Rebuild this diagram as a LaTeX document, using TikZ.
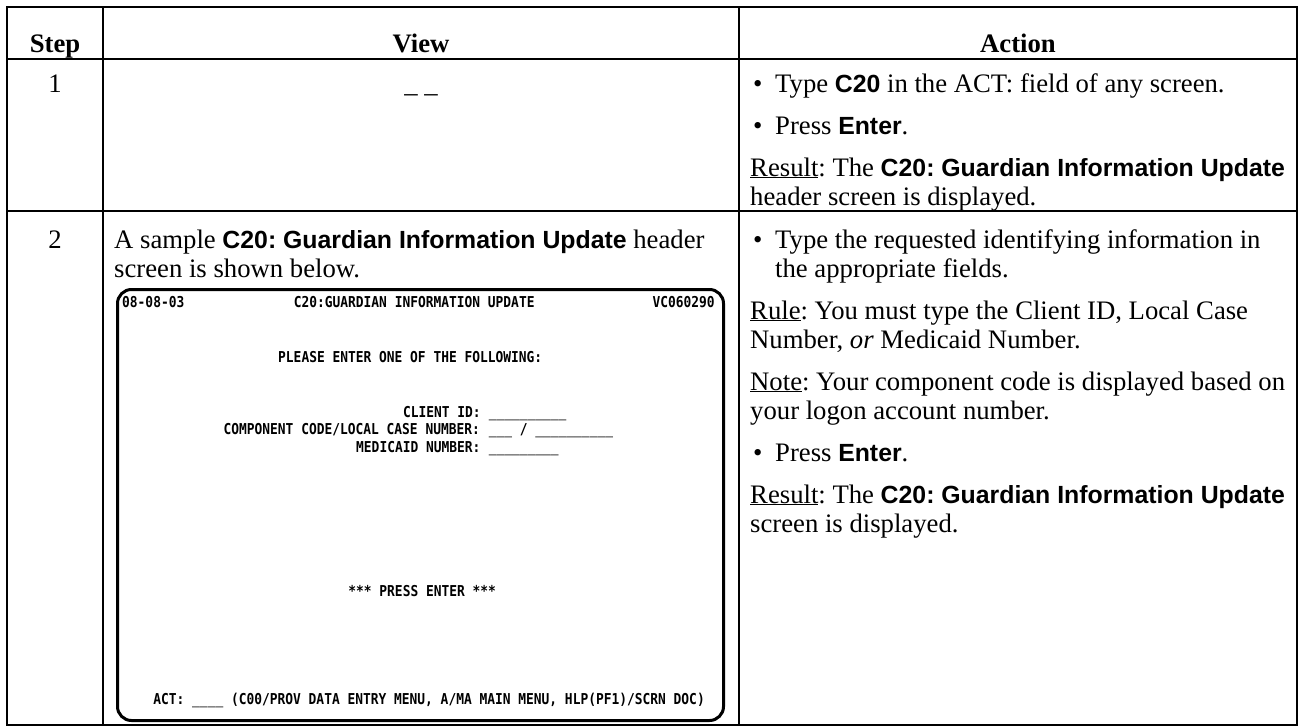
\documentclass[tikz,border=0pt]{standalone}
\usepackage{fontspec}
\setmainfont{Liberation Serif}
\newfontfamily\arialfont{Liberation Sans}[Scale=0.93]
\newfontfamily\termfont{DejaVu Sans Mono}[FakeStretch=0.86]
\usetikzlibrary{positioning}
\frenchspacing
\newcommand{\bsans}[1]{{\arialfont\bfseries #1}}
\newcommand{\bul}[1]{\makebox[25pt][l]{\hspace{3pt}\textbullet}\parbox[t]{520pt}{\raggedright #1}}
\newcommand{\para}[1]{\parbox[t]{560pt}{\raggedright #1}}
\newcommand{\fld}[1]{\textcolor{black!55}{#1}}
\def\cw{7.8}
\def\cx{122}

\begin{document}
\begin{tikzpicture}[x=1pt, y=-1pt,
    body/.style={inner sep=0pt, font=\fontsize{26.7}{29}\selectfont\frenchspacing},
    hd/.style={inner sep=0pt, font=\fontsize{26.7}{29}\selectfont\bfseries},
    term/.style={inner sep=0pt, anchor=base west, font=\fontsize{15}{17}\selectfont\termfont\bfseries},
    tabline/.style={line width=2.2pt}]
    \useasboundingbox (0,0) rectangle (1304,728);
    \fill[white] (0,0) rectangle (1304,728);

    \draw [tabline] (7,7) rectangle (1297,725);
    \draw [tabline] (103,7) -- (103,725) (739,7) -- (739,725);
    \draw [tabline] (7,59) -- (1297,59) (7,211) -- (1297,211);

    \node (hstep) [hd, anchor=base] at (55,52) {Step};
    \node (hview) [hd, anchor=base] at (421,52) {View};
    \node (haction) [hd, anchor=base] at (1018,52) {Action};

    \node (step1) [body, anchor=base] at (55,92) {1};
    \node (view1) [body, anchor=base] at (421,92) {\_ \_};
    \node (type1) [body, anchor=base west] at (750,92) {\bul{Type \bsans{C20} in the ACT: field of any screen.}};
    \node (enter1) [body, below=42pt of type1.base west, anchor=base west] {\bul{Press \bsans{Enter}.}};
    \node (result1) [body, below=42pt of enter1.base west, anchor=base west] {\para{\underline{Result}: The \bsans{C20: Guardian Information Update}\\ header screen is displayed.}};

    \node (step2) [body, anchor=base] at (55,248) {2};
    \node (view2) [body, anchor=base west] at (114,248) {\parbox[t]{620pt}{A sample \bsans{C20: Guardian Information Update} header\\ screen is shown below.}};
    \node (type2) [body, anchor=base west] at (750,248) {\bul{Type the requested identifying information in\\ the appropriate fields.}};
    \node (rule2) [body, below=71pt of type2.base west, anchor=base west] {\para{\underline{Rule}: You must type the Client ID, Local Case\\ Number, \textit{or} Medicaid Number.}};
    \node (note2) [body, below=71pt of rule2.base west, anchor=base west] {\para{\underline{Note}: Your component code is displayed based on\\ your logon account number.}};
    \node (enter2) [body, below=71pt of note2.base west, anchor=base west] {\bul{Press \bsans{Enter}.}};
    \node (result2) [body, below=42pt of enter2.base west, anchor=base west] {\para{\underline{Result}: The \bsans{C20: Guardian Information Update}\\ screen is displayed.}};

    \node (screen) [draw, line width=3pt, rounded corners=14pt, anchor=north west, minimum width=606pt, minimum height=431pt] at (116,288) {};
    \node (date) [term] at ({\cx+0*\cw},307) {08-08-03};
    \node (title) [term] at ({\cx+22*\cw},307) {C20:GUARDIAN INFORMATION UPDATE};
    \node (code) [term] at ({\cx+68*\cw},307) {VC060290};
    \node (please) [term] at ({\cx+20*\cw},362) {PLEASE ENTER ONE OF THE FOLLOWING:};
    \node (client) [term] at ({\cx+36*\cw},417) {CLIENT ID:};
    \node (clientf) [term] at ({\cx+47*\cw},417) {\fld{\_\_\_\_\_\_\_\_\_\_}};
    \node (casenum) [term] at ({\cx+13*\cw},434) {COMPONENT CODE/LOCAL CASE NUMBER:};
    \node (casenumf) [term] at ({\cx+47*\cw},434) {\fld{\_\_\_} / \fld{\_\_\_\_\_\_\_\_\_\_}};
    \node (medicaid) [term] at ({\cx+30*\cw},452) {MEDICAID NUMBER:};
    \node (medicaidf) [term] at ({\cx+47*\cw},452) {\fld{\_\_\_\_\_\_\_\_\_}};
    \node (press) [term] at ({\cx+29*\cw},596) {*** PRESS ENTER ***};
    \node (act) [term] at ({\cx+4*\cw},704) {ACT: \fld{\_\_\_\_} (C00/PROV DATA ENTRY MENU, A/MA MAIN MENU, HLP(PF1)/SCRN DOC)};
\end{tikzpicture}
\end{document}
